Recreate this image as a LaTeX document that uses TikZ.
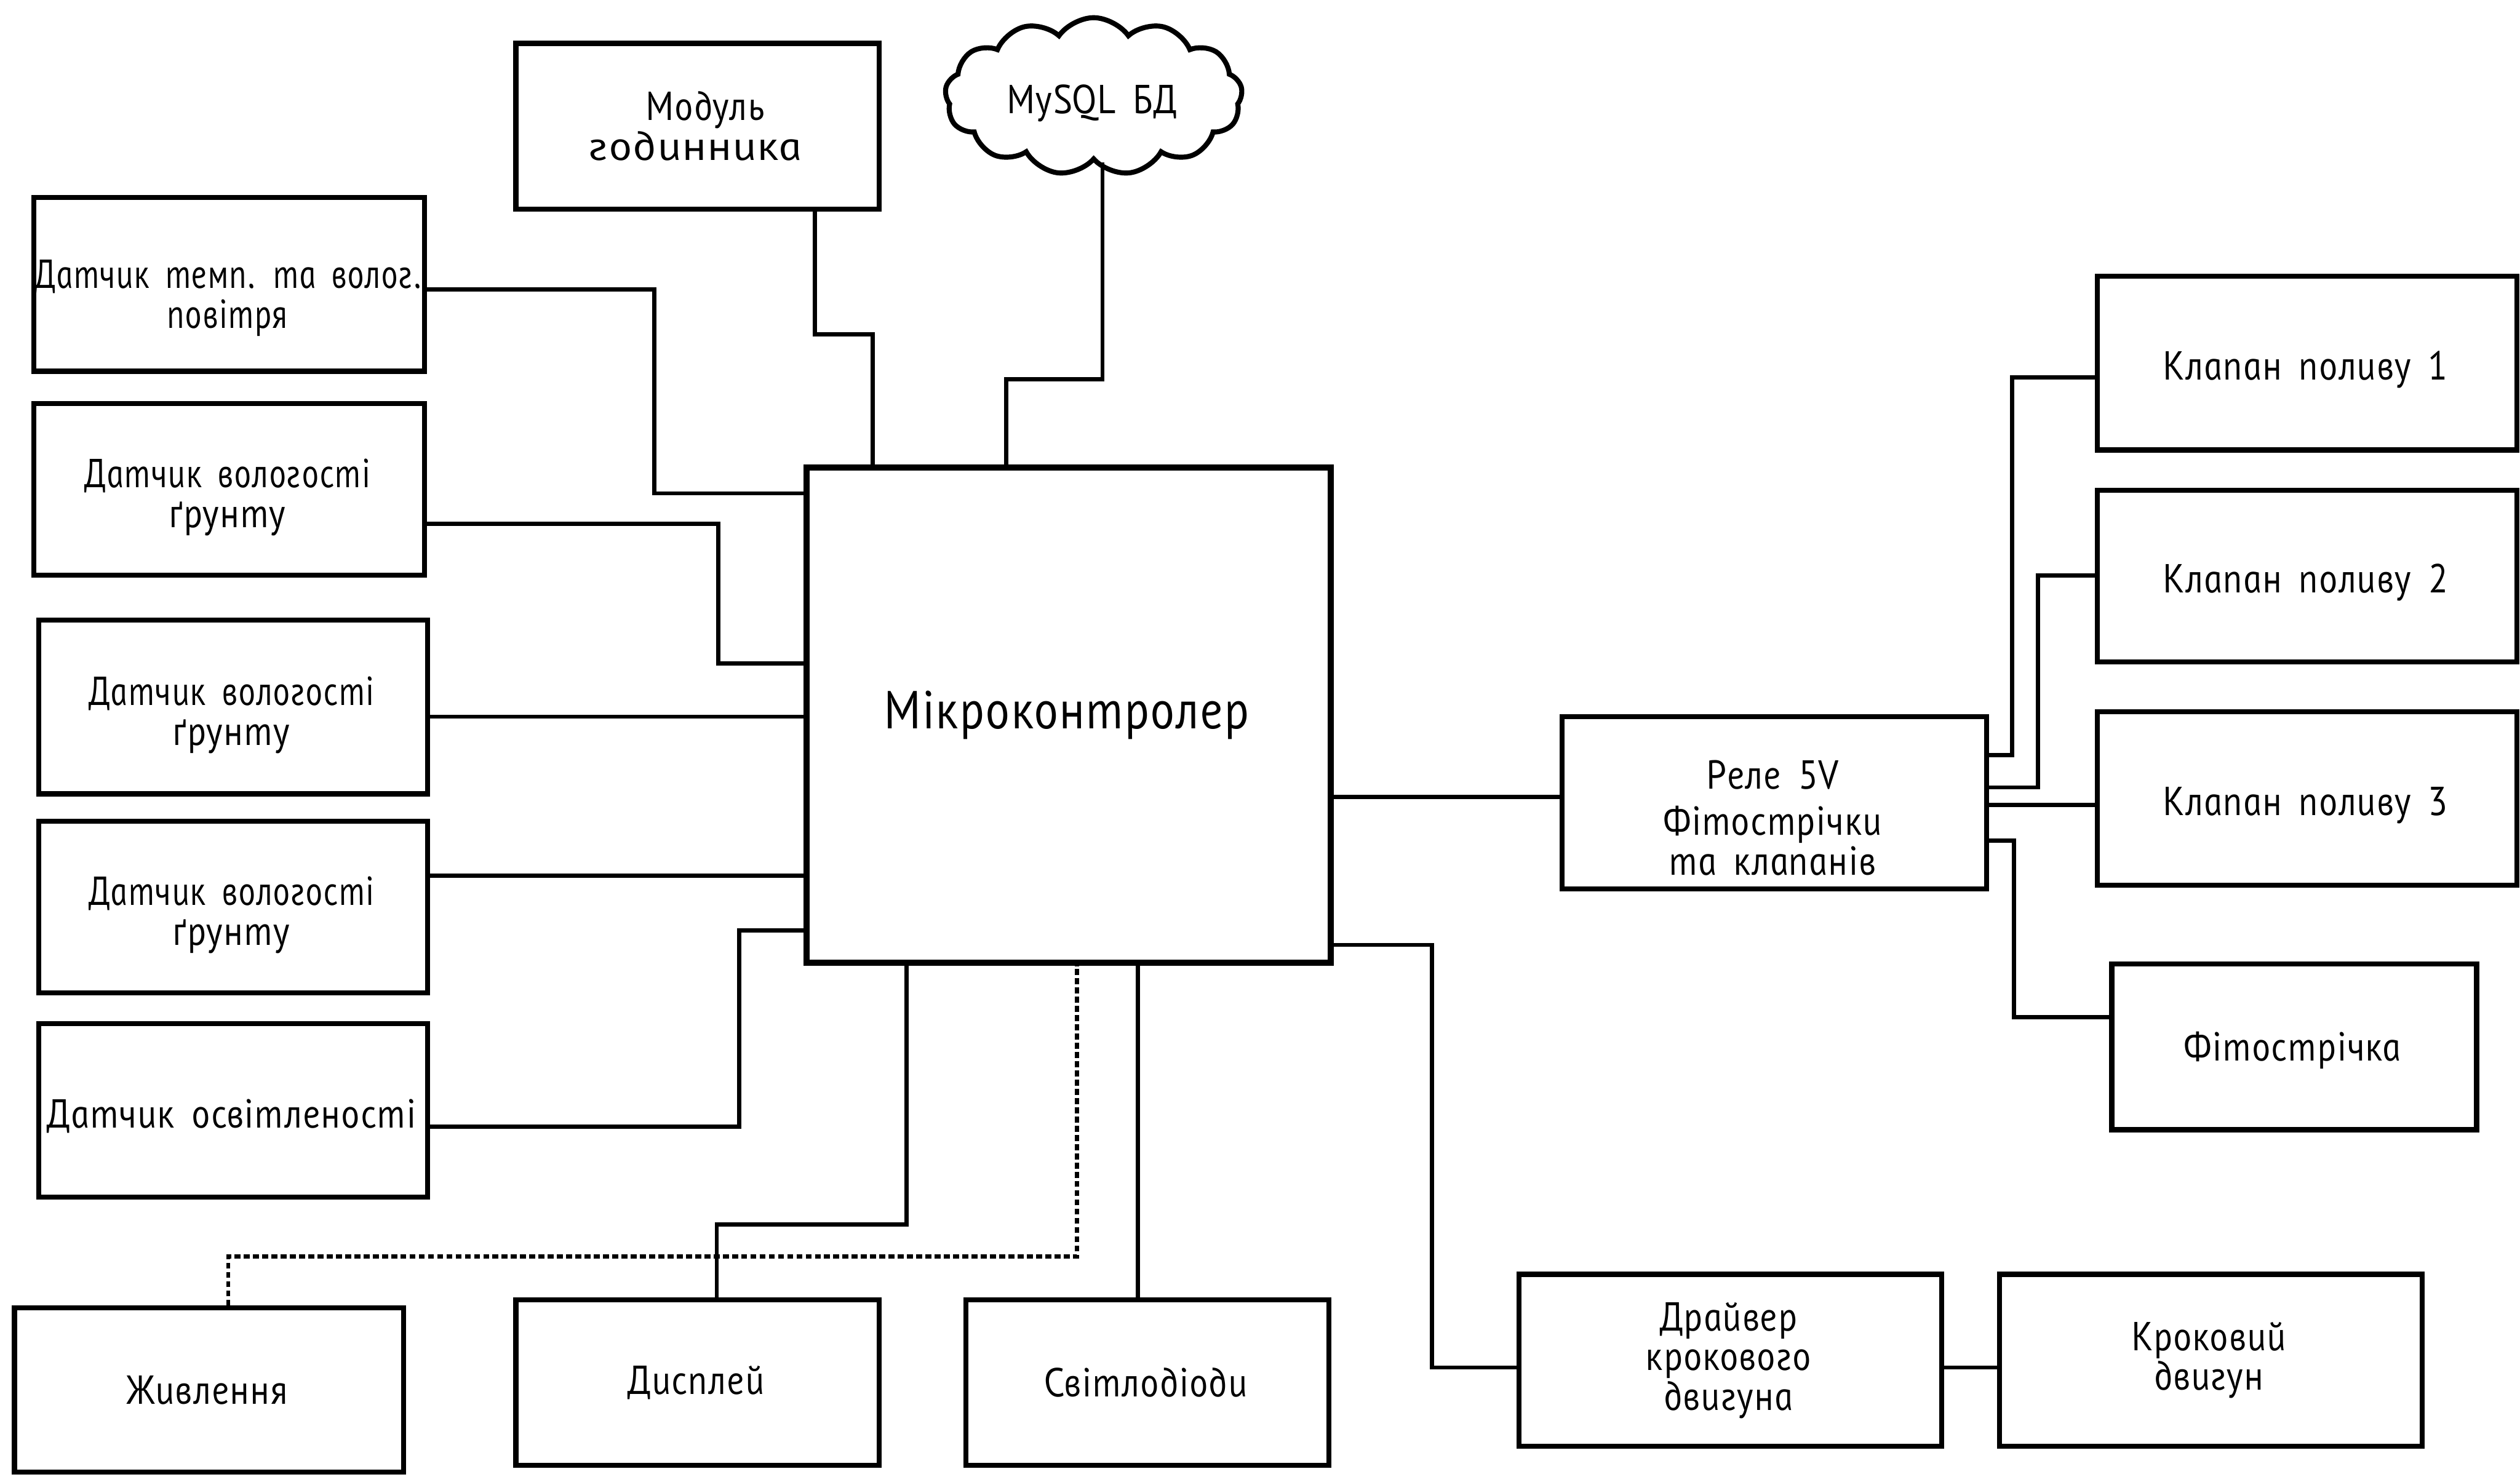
\documentclass[tikz,border=0pt]{standalone}
\usepackage{fontspec}
\usepackage{graphicx}
\setmainfont{PT Sans}[UprightFont=* Italic, FakeSlant=-0.2, FakeStretch=0.92, LetterSpace=2, WordSpace=1.6]
\usetikzlibrary{calc,shapes.symbols}
\def\pxu{0.03489cm}
\newcommand\lblfont{\fontsize{25}{24.5}\selectfont}
\newcommand\bigfont{\fontsize{33}{38}\selectfont}
\newcommand\dn[1]{\rule{0pt}{#1}}
\tikzset{
  box/.style={draw, line width=3.1pt, inner sep=0pt, align=center, font=\lblfont},
  sz/.style 2 args={minimum width=#1*\pxu, minimum height=#2*\pxu},
  conn/.style={line width=2.6pt},
  pwrline/.style={line width=2.6pt, dash pattern=on 0.13cm off 0.07cm}
}
\begin{document}
\begin{tikzpicture}[x=0.03489cm, y=-0.03489cm]
\fill[white] (0,0) rectangle (1568,919);
\useasboundingbox (0,0) rectangle (1568,919);

% left sensors
\node[box, sz={243}{108}] (b1) at (142.5,177) {\dn{34.5pt}\scalebox{0.9}[1]{Датчик темп. та волог.}\\\scalebox{0.9}[1]{повітря}};
\node[box, sz={243}{107}] (b2) at (142.5,304.5) {\dn{27.5pt}\scalebox{0.92}[1]{Датчик вологості}\\ґрунту};
\node[box, sz={242}{108}] (b3) at (145,440) {\dn{27.5pt}\scalebox{0.92}[1]{Датчик вологості}\\ґрунту};
\node[box, sz={242}{107}] (b4) at (145,564.5) {\dn{27.5pt}\scalebox{0.92}[1]{Датчик вологості}\\ґрунту};
\node[box, sz={242}{108}] (b5) at (145,691) {\dn{24.5pt}Датчик освітленості};

% top
\node[box, sz={226}{103}] (clk) at (434,78.5) {\hspace*{12pt}Модуль\\\scalebox{1.25}[1]{годинника}};
\node[cloud, draw, line width=3.1pt, cloud puffs=13, cloud puff arc=110, aspect=2.1,
      minimum width=185*\pxu, minimum height=98*\pxu, inner sep=0pt, font=\lblfont] (db) at (680.5,60) {\dn{26.5pt}MySQL БД};

% microcontroller
\node[box, line width=3.7pt, sz={326}{308}, font=\bigfont] (mc) at (665,445) {Мікроконтролер};

% bottom
\node[box, sz={242}{102}] (pow) at (130,865) {Живлення};
\node[box, sz={226}{103}] (disp) at (434,860.5) {Дисплей};
\node[box, sz={226}{103}] (led) at (714,860.5) {Світлодіоди};

% right
\node[box, sz={264}{107}] (rel) at (1104,499.5) {\dn{36.5pt}Реле 5V\\[4pt]Фітострічки\\та клапанів};
\node[box, sz={261}{108}] (v1) at (1435.5,226) {\dn{25.5pt}Клапан поливу 1};
\node[box, sz={261}{107}] (v2) at (1435.5,358.5) {\dn{25.5pt}Клапан поливу 2};
\node[box, sz={261}{108}] (v3) at (1435.5,497) {\dn{25.5pt}Клапан поливу 3};
\node[box, sz={227}{103}] (fito) at (1427.5,651.5) {\dn{22.5pt}Фітострічка};
\node[box, sz={263}{107}] (drv) at (1076.5,846.5) {Драйвер\\крокового\\двигуна};
\node[box, sz={263}{107}] (stp) at (1375.5,846.5) {Кроковий\\двигун};

% connectors
\draw[conn] (b1.east |- 0,180) -| (407,307) -- (mc.west |- 0,307);
\draw[conn] (b2.east |- 0,326) -| (447,413) -- (mc.west |- 0,413);
\draw[conn] (b3.east |- 0,446) -- (mc.west |- 0,446);
\draw[conn] (b4.east |- 0,545) -- (mc.west |- 0,545);
\draw[conn] (b5.east |- 0,701) -| (460,579) -- (mc.west |- 0,579);
\draw[conn] (clk.south -| 507,0) |- (543,208) -- (mc.north -| 543,0);
\draw[conn] (db.south -| 686,0) |- (626,236) -- (mc.north -| 626,0);
\draw[pwrline] (pow.north -| 142,0) |- (670,782) -- (mc.south -| 670,0);
\draw[conn] (disp.north -| 446,0) |- (564,762) -- (mc.south -| 564,0);
\draw[conn] (led.north -| 708,0) -- (mc.south -| 708,0);
\draw[conn] (mc.east |- 0,496) -- (rel.west |- 0,496);
\draw[conn] (rel.east |- 0,470) -| (1252,235) -- (v1.west |- 0,235);
\draw[conn] (rel.east |- 0,490) -| (1268,358) -- (v2.west |- 0,358);
\draw[conn] (rel.east |- 0,501) -- (v3.west |- 0,501);
\draw[conn] (rel.east |- 0,523) -| (1253,633) -- (fito.west |- 0,633);
\draw[conn] (mc.east |- 0,588) -| (891,851) -- (drv.west |- 0,851);
\draw[conn] (drv.east |- 0,851) -- (stp.west |- 0,851);
\end{tikzpicture}
\end{document}
